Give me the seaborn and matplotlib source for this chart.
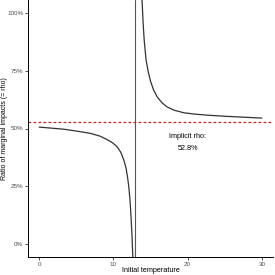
import matplotlib
matplotlib.use("Agg")
import matplotlib.pyplot as plt
import matplotlib.ticker as mtick
import seaborn as sns
import pandas as pd

# left branch of the curve (below the asymptote)
left_temp = [0.0, 1.5, 3.3, 5.0, 6.9, 8.2, 9.1, 9.9, 10.5, 11.0, 11.4, 11.7, 11.9, 12.05, 12.2, 12.3, 12.4, 12.48, 12.55, 12.6, 12.65]
left_ratio = [0.506, 0.502, 0.497, 0.489, 0.479, 0.467, 0.453, 0.438, 0.421, 0.397, 0.364, 0.330, 0.291, 0.255, 0.205, 0.160, 0.104, 0.055, 0.000, -0.04, -0.08]

# right branch of the curve (above the asymptote)
right_temp = [13.8, 13.9, 14.0, 14.15, 14.4, 14.7, 15.0, 15.4, 15.9, 16.5, 17.2, 18.2, 19.5, 21.0, 23.0, 25.0, 27.5, 30.0]
right_ratio = [1.10, 1.03, 0.960, 0.883, 0.797, 0.745, 0.705, 0.668, 0.637, 0.613, 0.594, 0.579, 0.568, 0.562, 0.557, 0.553, 0.549, 0.545]

asymptote_temp = 12.9
implicit_rho = 0.528

y_ticks = [0, 0.25, 0.5, 0.75, 1.0]
x_ticks = [0, 10, 20, 30]

sns.set_theme(style="ticks")
plt.rcParams["font.family"] = ["Liberation Sans", "DejaVu Sans"]

fig = plt.figure(figsize=(2.75, 2.75), dpi=100)
fig.patch.set_facecolor("white")
ax = fig.add_axes([28 / 275, 18 / 275, 245 / 275, 257 / 275])

left_df = pd.DataFrame({"temp": left_temp, "ratio": left_ratio})
right_df = pd.DataFrame({"temp": right_temp, "ratio": right_ratio})
sns.lineplot(data=left_df, x="temp", y="ratio", color="#333333", linewidth=0.9, ax=ax, sort=False)
sns.lineplot(data=right_df, x="temp", y="ratio", color="#333333", linewidth=0.9, ax=ax, sort=False)

ax.axvline(asymptote_temp, color="#555555", linewidth=0.8)
ax.axhline(implicit_rho, color="#cc1f1f", linewidth=0.9, linestyle=(0, (2.2, 1.8)))

ax.text(20, 0.44, f"Implicit rho:\n{implicit_rho * 100:.1f}%", ha="center", va="center",
        fontsize=5.2, color="black", linespacing=1.9)

ax.set_xlim(-1.5, 31.5)
ax.set_ylim(-0.056, 1.056)
ax.set_xticks(x_ticks)
ax.set_yticks(y_ticks)
ax.yaxis.set_major_formatter(mtick.PercentFormatter(1.0, decimals=0))

ax.set_xlabel("Initial temperature", fontsize=5.2, color="black")
ax.set_ylabel("Ratio of marginal impacts (= rho)", fontsize=5.0, color="black")
ax.xaxis.set_label_coords(0.5, -0.053)
ax.yaxis.set_label_coords(-0.094, 0.5)
ax.xaxis.label.set_va("center")
ax.yaxis.label.set_va("center")
ax.tick_params(axis="both", labelsize=4.5, labelcolor="#4d4d4d", color="#333333",
               length=2, width=0.6, pad=1.5)

sns.despine(ax=ax)
for side in ["left", "bottom"]:
    ax.spines[side].set_color("black")
    ax.spines[side].set_linewidth(0.7)

fig.savefig("out.png", dpi=100, facecolor="white")
